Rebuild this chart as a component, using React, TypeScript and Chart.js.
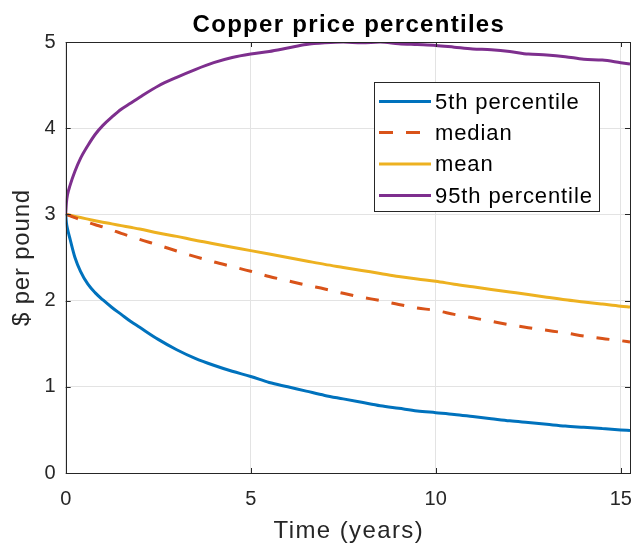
import React, { useEffect, useRef } from "react";
import { Chart, registerables } from "chart.js";

Chart.register(...registerables);

const times = [0, 0.02, 0.05, 0.12, 0.25, 0.4, 0.6, 0.8, 1.0, 1.25, 1.5, 1.75, 2.0, 2.5, 3.0, 3.5, 4.0, 4.5, 5.0, 5.5, 6.0, 6.5, 7.0, 7.5, 8.0, 8.5, 9.0, 9.5, 10.0, 10.5, 11.0, 11.5, 12.0, 12.5, 13.0, 13.5, 14.0, 14.5, 15.0, 15.25];

const p5 = [3.0, 2.9, 2.83, 2.71, 2.5, 2.34, 2.19, 2.09, 2.01, 1.92, 1.84, 1.76, 1.69, 1.55, 1.43, 1.33, 1.25, 1.18, 1.12, 1.05, 1.0, 0.95, 0.9, 0.86, 0.82, 0.78, 0.75, 0.72, 0.7, 0.68, 0.655, 0.63, 0.605, 0.585, 0.565, 0.545, 0.53, 0.515, 0.5, 0.494];

const median = [3.0, 2.997, 2.993, 2.984, 2.962, 2.94, 2.908, 2.88, 2.855, 2.818, 2.78, 2.745, 2.71, 2.645, 2.575, 2.51, 2.45, 2.395, 2.34, 2.28, 2.23, 2.18, 2.135, 2.085, 2.04, 2.0, 1.955, 1.915, 1.885, 1.84, 1.8, 1.76, 1.72, 1.685, 1.655, 1.625, 1.59, 1.56, 1.535, 1.52];

const mean = [3.0, 2.998, 2.995, 2.99, 2.977, 2.963, 2.945, 2.927, 2.91, 2.89, 2.87, 2.85, 2.83, 2.785, 2.745, 2.7, 2.66, 2.62, 2.58, 2.54, 2.5, 2.46, 2.42, 2.385, 2.35, 2.315, 2.28, 2.25, 2.225, 2.19, 2.16, 2.13, 2.1, 2.07, 2.04, 2.01, 1.985, 1.96, 1.935, 1.925];

const p95 = [3.0, 3.14, 3.23, 3.34, 3.5, 3.65, 3.8, 3.93, 4.03, 4.13, 4.22, 4.29, 4.36, 4.49, 4.59, 4.68, 4.76, 4.82, 4.86, 4.89, 4.93, 4.97, 4.99, 5.0, 4.99, 5.0, 4.98, 4.97, 4.96, 4.94, 4.92, 4.91, 4.89, 4.86, 4.85, 4.83, 4.8, 4.79, 4.76, 4.745];

const xTicks = [0, 5, 10, 15];
const yTicks = [0, 1, 2, 3, 4, 5];
const seriesLabels = ["5th percentile", "median", "mean", "95th percentile"];
const seriesColors = ["#0072BD", "#D95319", "#EDB120", "#7E2F8E"];
const titleText = "Copper price percentiles";
const xTitle = "Time (years)";
const yTitle = "$ per pound";

const FONT = '"Liberation Sans", Arial, Helvetica, sans-serif';
const AXIS_COLOR = "#262626";

const framePlugin = {
  id: "frame",
  afterDatasetsDraw(chart: any) {
    const { ctx, chartArea } = chart;
    const { left, right, top, bottom } = chartArea;
    const xs = chart.scales.x;
    const ys = chart.scales.y;
    ctx.save();
    ctx.strokeStyle = AXIS_COLOR;
    ctx.lineWidth = 1;
    ctx.strokeRect(Math.round(left) + 0.5, Math.round(top) + 0.5, Math.round(right - left), Math.round(bottom - top));
    const tl = 5;
    ctx.beginPath();
    xTicks.forEach((v) => {
      const px = Math.round(xs.getPixelForValue(v)) + 0.5;
      ctx.moveTo(px, bottom);
      ctx.lineTo(px, bottom - tl);
      ctx.moveTo(px, top);
      ctx.lineTo(px, top + tl);
    });
    yTicks.forEach((v) => {
      const py = Math.round(ys.getPixelForValue(v)) + 0.5;
      ctx.moveTo(left, py);
      ctx.lineTo(left + tl, py);
      ctx.moveTo(right, py);
      ctx.lineTo(right - tl, py);
    });
    ctx.stroke();
    ctx.restore();
  },
  afterDraw(chart: any) {
    const { ctx, chartArea } = chart;
    const cx = (chartArea.left + chartArea.right) / 2;
    const cy = (chartArea.top + chartArea.bottom) / 2;
    ctx.save();
    // title
    ctx.fillStyle = "#000000";
    ctx.font = `bold 24px ${FONT}`;
    (ctx as any).letterSpacing = "1.3px";
    ctx.textAlign = "center";
    ctx.textBaseline = "alphabetic";
    ctx.fillText(titleText, cx + 1, 32);

    // axis titles
    ctx.fillStyle = AXIS_COLOR;
    ctx.font = `24px ${FONT}`;
    (ctx as any).letterSpacing = "1.4px";
    ctx.textBaseline = "middle";
    ctx.fillText(xTitle, cx + 1, 531);
    (ctx as any).letterSpacing = "0.8px";
    ctx.save();
    ctx.translate(22, cy);
    ctx.rotate(-Math.PI / 2);
    ctx.fillText(yTitle, 0, 0);
    ctx.restore();

    // legend
    (ctx as any).letterSpacing = "0px";
    const bx = 374.5, by = 82.5, bw = 225, bh = 129;
    ctx.fillStyle = "#ffffff";
    ctx.fillRect(bx, by, bw, bh);
    ctx.strokeStyle = AXIS_COLOR;
    ctx.lineWidth = 1;
    ctx.strokeRect(bx, by, bw, bh);
    const rowY = [101.5, 132.5, 164, 195.5];
    chart.data.datasets.forEach((ds: any, i: number) => {
      const y = rowY[i];
      ctx.beginPath();
      ctx.strokeStyle = ds.borderColor;
      ctx.lineWidth = 3;
      ctx.setLineDash(ds.borderDash && ds.borderDash.length ? [14, 13] : []);
      ctx.moveTo(379, y);
      ctx.lineTo(431, y);
      ctx.stroke();
      ctx.setLineDash([]);
      ctx.fillStyle = "#000000";
      ctx.font = `22px ${FONT}`;
      (ctx as any).letterSpacing = "0.9px";
      ctx.textAlign = "left";
      ctx.textBaseline = "middle";
      ctx.fillText(ds.label, 435, y + 1);
      (ctx as any).letterSpacing = "0px";
    });
    ctx.restore();
  },
};

export default function App() {
  const ref = useRef<HTMLCanvasElement | null>(null);

  useEffect(() => {
    if (!ref.current) return;
    const series = [p5, median, mean, p95];
    const chart = new Chart(ref.current, {
      type: "line",
      data: {
        datasets: series.map((vals, i) => ({
          label: seriesLabels[i],
          data: times.map((t, j) => ({ x: t, y: vals[j] })),
          borderColor: seriesColors[i],
          backgroundColor: seriesColors[i],
          borderWidth: 3,
          borderDash: i === 1 ? [13, 13] : [],
          pointRadius: 0,
          fill: false,
          cubicInterpolationMode: "monotone" as const,
        })),
      },
      options: {
        animation: false,
        responsive: false,
        maintainAspectRatio: false,
        layout: { padding: { top: 42, right: 9, left: 0, bottom: 0 } },
        plugins: {
          legend: { display: false },
          title: { display: false },
          tooltip: { enabled: false },
        },
        scales: {
          x: {
            type: "linear",
            min: 0,
            max: 15.25,
            afterBuildTicks: (s: any) => {
              s.ticks = xTicks.map((v) => ({ value: v }));
            },
            afterFit: (s: any) => {
              s.height = 73;
              s.paddingLeft = 0;
              s.paddingRight = 0;
            },
            grid: { color: "#e3e3e3", drawTicks: false, lineWidth: 1 },
            border: { display: false },
            ticks: {
              font: { size: 20, family: FONT },
              color: AXIS_COLOR,
              padding: 14,
              maxRotation: 0,
              autoSkip: false,
            },
            title: { display: false },
          },
          y: {
            type: "linear",
            min: 0,
            max: 5,
            afterBuildTicks: (s: any) => {
              s.ticks = yTicks.map((v) => ({ value: v }));
            },
            afterFit: (s: any) => {
              s.width = 65.7;
              s.paddingTop = 0;
              s.paddingBottom = 0;
            },
            grid: { color: "#e3e3e3", drawTicks: false, lineWidth: 1 },
            border: { display: false },
            ticks: {
              font: { size: 20, family: FONT },
              color: AXIS_COLOR,
              padding: 10,
              autoSkip: false,
            },
            title: { display: false },
          },
        },
      },
      plugins: [framePlugin],
    });
    return () => chart.destroy();
  }, []);

  return (
    <div style={{ position: "absolute", left: 0, top: 0, width: 639, height: 546, background: "#ffffff" }}>
      <canvas ref={ref} width={639} height={546} style={{ display: "block" }} />
    </div>
  );
}
